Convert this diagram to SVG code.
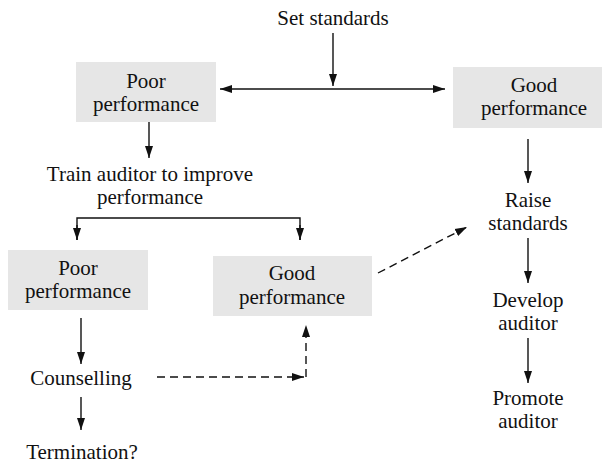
<svg xmlns="http://www.w3.org/2000/svg" width="602" height="463" viewBox="0 0 602 463">
<style>
  text { font-family: 'Liberation Serif', 'Tinos', 'DejaVu Serif', serif; font-size: 21px; fill: #111; text-anchor: middle; }
  .box { fill: #e6e6e6; stroke: none; }
  .c { stroke: #111; stroke-width: 1.4; fill: none; }
  .d { stroke-dasharray: 8 5; }
</style>
<defs>
  <marker id="ah" markerUnits="userSpaceOnUse" markerWidth="14" markerHeight="10" refX="12" refY="4" orient="auto-start-reverse" viewBox="0 0 14 8">
    <path d="M0,0 L12,4 L0,8 Z" fill="#111"/>
  </marker>
</defs>
<rect width="602" height="463" fill="#fff"/>

<g id="connectors">
  <line class="c" x1="333" y1="33" x2="333" y2="86" marker-end="url(#ah)"/>
  <line class="c" x1="220" y1="89" x2="445" y2="89" marker-start="url(#ah)" marker-end="url(#ah)"/>
  <line class="c" x1="149" y1="122" x2="149" y2="158" marker-end="url(#ah)"/>
  <polyline class="c" points="77,240 77,218 300,218 300,240" />
  <line class="c" x1="77" y1="225" x2="77" y2="240" marker-end="url(#ah)"/>
  <line class="c" x1="300" y1="225" x2="300" y2="240" marker-end="url(#ah)"/>
  <line class="c" x1="81" y1="318" x2="81" y2="364" marker-end="url(#ah)"/>
  <line class="c" x1="81" y1="397" x2="81" y2="430" marker-end="url(#ah)"/>
  <line class="c d" x1="157" y1="377" x2="304" y2="377" marker-end="url(#ah)"/>
  <line class="c d" x1="306" y1="377" x2="306" y2="325" marker-end="url(#ah)"/>
  <line class="c d" x1="378" y1="273" x2="467" y2="227" marker-end="url(#ah)"/>
  <line class="c" x1="528" y1="139" x2="528" y2="183" marker-end="url(#ah)"/>
  <line class="c" x1="528" y1="238" x2="528" y2="283" marker-end="url(#ah)"/>
  <line class="c" x1="528" y1="338" x2="528" y2="383" marker-end="url(#ah)"/>
</g>

<g font-family="Liberation Serif, serif">
<g id="set-standards"><text x="333" y="25">Set standards</text></g>

<g id="poor1">
  <rect class="box" x="76" y="62" width="140" height="60"/>
  <text x="146" y="88">Poor</text>
  <text x="146" y="111">performance</text>
</g>

<g id="good1">
  <rect class="box" x="453" y="67" width="149" height="61"/>
  <text x="534" y="92">Good</text>
  <text x="534" y="115">performance</text>
</g>

<g id="train">
  <text x="150" y="181">Train auditor to improve</text>
  <text x="150" y="204">performance</text>
</g>

<g id="poor2">
  <rect class="box" x="8" y="250" width="140" height="60"/>
  <text x="78" y="275">Poor</text>
  <text x="78" y="298">performance</text>
</g>

<g id="good2">
  <rect class="box" x="213" y="256" width="159" height="60"/>
  <text x="292" y="280">Good</text>
  <text x="292" y="304">performance</text>
</g>

<g id="counselling"><text x="81" y="385">Counselling</text></g>
<g id="termination"><text x="82" y="459">Termination?</text></g>

<g id="raise">
  <text x="528" y="207">Raise</text>
  <text x="528" y="230">standards</text>
</g>
<g id="develop">
  <text x="528" y="307">Develop</text>
  <text x="528" y="330">auditor</text>
</g>
<g id="promote">
  <text x="528" y="405">Promote</text>
  <text x="528" y="428">auditor</text>
</g>
</g>
</svg>
